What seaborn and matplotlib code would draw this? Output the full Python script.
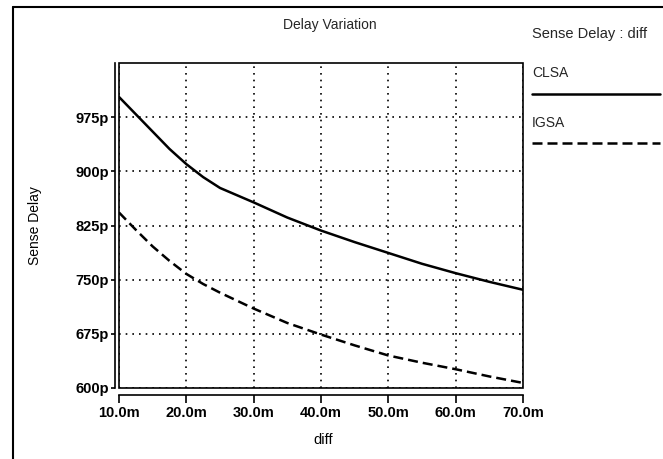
import pandas as pd
import matplotlib
matplotlib.use("Agg")
import matplotlib.pyplot as plt
from matplotlib.lines import Line2D
from matplotlib.patches import Rectangle
import seaborn as sns

# data (delay in ps, diff in mV)
diff_mv = [10, 12.5, 15, 17.5, 20, 22.5, 25, 27.5, 30, 35, 40, 45, 50, 55, 60, 65, 70]
clsa_ps = [1003, 979, 955, 931, 910, 892, 877, 867, 857, 836, 818, 802, 787, 772, 759, 747, 736]
igsa_ps = [843, 819, 796, 776, 758, 744, 732, 721, 710, 690, 674, 659, 645, 635, 626, 616, 607]

x_ticks = [10, 20, 30, 40, 50, 60, 70]
x_ticklabels = ["10.0m", "20.0m", "30.0m", "40.0m", "50.0m", "60.0m", "70.0m"]
y_ticks = [600, 675, 750, 825, 900, 975]
y_ticklabels = ["600p", "675p", "750p", "825p", "900p", "975p"]
series_names = ["CLSA", "IGSA"]

df = pd.DataFrame({
    "diff": diff_mv * 2,
    "delay": clsa_ps + igsa_ps,
    "sa": ["CLSA"] * len(diff_mv) + ["IGSA"] * len(diff_mv),
})

sns.set_theme(style="white")
plt.rcParams["font.family"] = ["Liberation Sans", "DejaVu Sans"]

W, H = 663, 459
fig = plt.figure(figsize=(W / 100, H / 100), dpi=100)
ax = fig.add_axes([119 / W, 1 - 388 / H, (523 - 119) / W, (388 - 63) / H])

sns.lineplot(data=df, x="diff", y="delay", hue="sa", style="sa",
             palette={"CLSA": "black", "IGSA": "black"},
             dashes={"CLSA": "", "IGSA": (4, 2)},
             lw=1.8, legend=False, ax=ax)

ax.set_xlim(10, 70)
ax.set_ylim(600, 1050)
ax.set_xticks(x_ticks)
ax.set_xticklabels(x_ticklabels)
ax.set_yticks(y_ticks)
ax.set_yticklabels(y_ticklabels)

# dotted grid
ax.grid(True, color="black", linestyle=(0, (1, 3)), linewidth=1.2)

# box around the plot area, axes drawn slightly outward like the viewer
ax.add_patch(Rectangle((0, 0), 1, 1, transform=ax.transAxes, fill=False,
                       edgecolor="black", lw=1.2, clip_on=False, zorder=5))
for side in ["top", "right"]:
    ax.spines[side].set_visible(False)
ax.spines["left"].set_position(("outward", 3))
ax.spines["bottom"].set_position(("outward", 5))
for side in ["left", "bottom"]:
    ax.spines[side].set_color("black")
    ax.spines[side].set_linewidth(1.2)

ax.tick_params(axis="x", direction="out", length=6, width=1.2, pad=2,
               bottom=True, labelsize=10.5, colors="black")
ax.tick_params(axis="y", direction="out", length=3, width=1.2, pad=1,
               left=True, labelsize=10.5, colors="black")
for lab in ax.get_xticklabels() + ax.get_yticklabels():
    lab.set_fontweight("bold")

ax.set_xlabel("diff", fontsize=10.5, color="black")
ax.set_ylabel("Sense Delay", fontsize=10, color="black")
ax.xaxis.set_label_coords(0.505, -0.14)
ax.yaxis.set_label_coords(-0.19, 0.5)

fig.text(330 / W, 1 - 25 / H, "Delay Variation", ha="center", va="center", fontsize=10)

# legend block at the right
fig.text(532 / W, 1 - 34 / H, "Sense Delay : diff", ha="left", va="center", fontsize=10.5)
fig.text(532 / W, 1 - 73 / H, series_names[0], ha="left", va="center", fontsize=10)
fig.text(532 / W, 1 - 123 / H, series_names[1], ha="left", va="center", fontsize=10)
fig.add_artist(Line2D([532 / W, 660 / W], [1 - 94 / H] * 2, color="black", lw=1.8))
fig.add_artist(Line2D([532 / W, 660 / W], [1 - 143 / H] * 2, color="black", lw=1.8,
                      dashes=(4, 2)))

# page border lines
fig.add_artist(Line2D([13 / W, 13 / W], [0, 1 - 7 / H], color="black", lw=1.5))
fig.add_artist(Line2D([13 / W, 1], [1 - 7 / H] * 2, color="black", lw=1.5))

fig.savefig("out.png", dpi=100, facecolor="white")
